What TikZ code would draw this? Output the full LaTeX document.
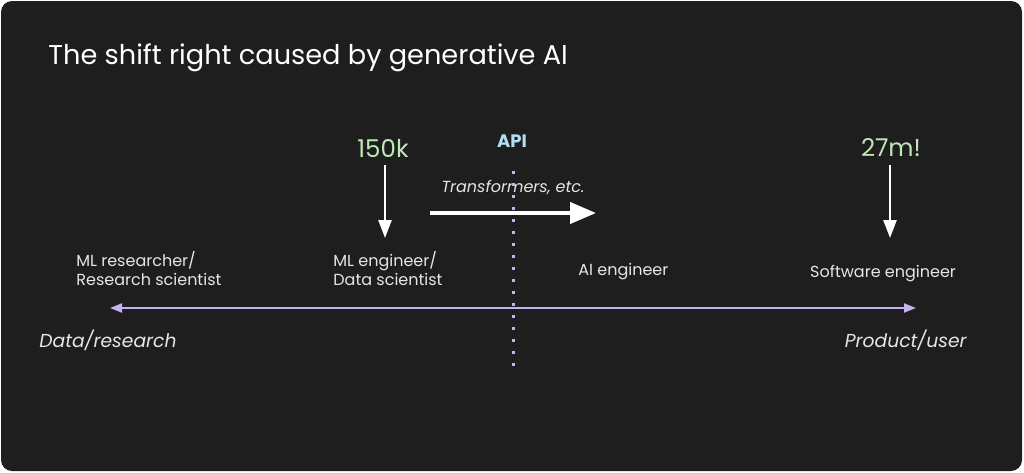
\documentclass[tikz,border=0pt]{standalone}
\usepackage{fontspec}
\setmainfont{Poppins}
\usetikzlibrary{arrows.meta}
\usetikzlibrary{positioning}

\definecolor{panel}{HTML}{1E1E1E}
\definecolor{fgtext}{HTML}{E6E6E6}
\definecolor{countgreen}{HTML}{BFE8B6}
\definecolor{apiblue}{HTML}{B4DEF4}
\definecolor{lavender}{HTML}{C4B2EE}

\begin{document}
\begin{tikzpicture}[x=1pt,y=-1pt,thick,
    role/.style={text=fgtext,font=\fontsize{16}{19}\selectfont,align=left,inner sep=0pt},
    count/.style={text=countgreen,font=\fontsize{24.5}{30}\selectfont,inner sep=0pt},
    pole/.style={text=fgtext,font=\fontsize{18.7}{22}\selectfont\itshape,inner sep=0pt},
    drop/.style={white,line width=2.5pt,-{Triangle[width=13pt,length=18pt]}}]

      \useasboundingbox (0,0) rectangle (1024,472);
      \fill[panel,rounded corners=11pt] (1,1) rectangle (1022,471);

      \node (title) [anchor=west,text=white,font=\fontsize{27.2}{33}\selectfont,inner sep=0pt]
        at (48,58) {The shift right caused by generative AI};

      % roles along the axis
      \node (mlres) [role,anchor=west] at (76,269) {ML researcher/\\Research scientist};
      \node (mleng) [role,anchor=west] at (333,269) {ML engineer/\\Data scientist};
      \node (aieng) [role,anchor=west] at (578,272) {AI engineer};
      \node (sweng) [role] at (883,274) {Software engineer};

      \node (k150) [count] at (383,148) {150k};
      \node (m27) [count] at (891,148) {27m!};
      \coordinate (k150tip) at (385,238);
      \coordinate (m27tip) at (890,238);

      \node (api) [text=apiblue,font=\fontsize{18}{21}\selectfont\bfseries,inner sep=0pt] at (512,141) {API};
      \coordinate (apitop) at (513,171);
      \coordinate (apibot) at (513,366);
      \node (tf) [text=fgtext,font=\fontsize{16}{19}\selectfont\itshape,inner sep=0pt] at (513,188) {Transformers, etc.};
      \coordinate (shiftL) at (430,213);
      \coordinate (shiftR) at (596,213);

      \coordinate (axisL) at (110,308);
      \coordinate (axisR) at (916,308);
      \node (datares) [pole,anchor=west] at (39,340) {Data/research};
      \node (produser) [pole,anchor=east] at (967,340) {Product/user};

      \draw[lavender,line width=3pt,dash pattern=on 3pt off 9pt] (apitop) -- (apibot);
      \draw[lavender,line width=2pt,{Triangle[width=9pt,length=12pt]}-{Triangle[width=9pt,length=12pt]}] (axisL) -- (axisR);
      \draw[drop] (k150tip |- k150.south) ++(0,8) -- (k150tip);
      \draw[drop] (m27tip |- m27.south) ++(0,8) -- (m27tip);
      \draw[white,line width=4pt,-{Triangle[width=21pt,length=26pt]}] (shiftL) -- (shiftR);
\end{tikzpicture}
\end{document}
